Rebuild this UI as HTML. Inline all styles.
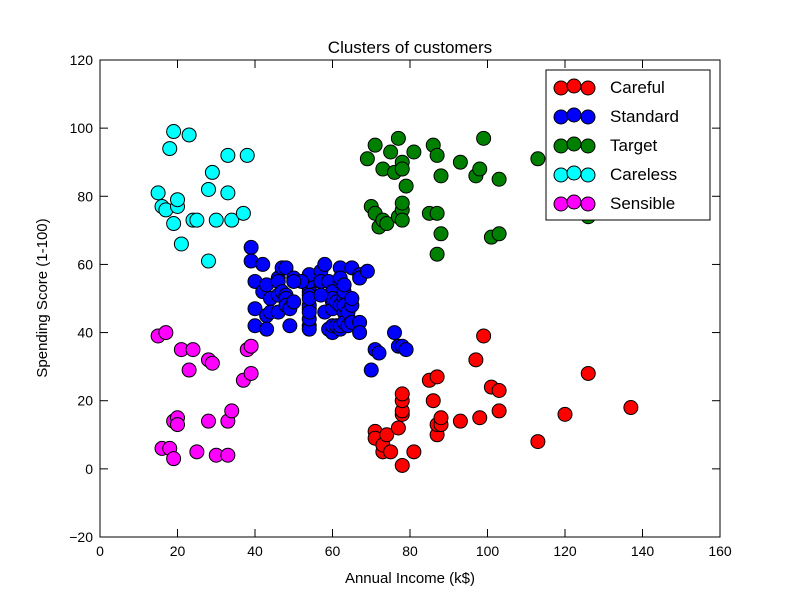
<!DOCTYPE html>
<html><head><meta charset="utf-8"><style>
body{margin:0;background:#fff;}
svg text{font-family:"Liberation Sans",sans-serif;}
</style></head><body>
<svg id="chart" width="800" height="597" xmlns="http://www.w3.org/2000/svg">
<rect width="800" height="597" fill="#fff"/>
<g id="points"></g>
<rect x="100" y="60" width="620" height="477" fill="none" stroke="#000" stroke-width="1"/>
<g id="axes"></g>
<text x="410" y="53" font-size="17" text-anchor="middle">Clusters of customers</text>
<text x="410" y="583" font-size="15" text-anchor="middle">Annual Income (k$)</text>
<text transform="translate(47,298) rotate(-90)" font-size="15" text-anchor="middle">Spending Score (1-100)</text>
<g id="legend"></g>
</svg>
<script>
const xTicks=[0,20,40,60,80,100,120,140,160];
const yTicks=[-20,0,20,40,60,80,100,120];
const clusterNames=["Careful","Standard","Target","Careless","Sensible"];
const clusterColors=["#ff0000","#0000ff","#008000","#00ffff","#ff00ff"];
const carefulX=[71,71,73,73,74,75,77,78,78,78,78,78,81,85,86,87,87,87,88,88,93,97,98,99,101,103,103,113,120,126,137];
const carefulY=[11,9,5,7,10,5,12,1,16,17,20,22,5,26,20,10,13,27,13,15,14,32,15,39,24,23,17,8,16,28,18];
const standardX=[39,39,40,40,40,42,42,43,43,43,44,44,46,46,46,46,47,47,48,48,48,48,49,49,50,50,54,54,54,54,54,54,54,54,54,54,54,54,54,57,57,58,58,59,59,60,60,60,60,60,60,61,61,62,62,62,62,62,62,63,63,63,63,63,63,64,64,65,65,65,65,67,67,67,67,69,70,71,72,76,77,78,79,57,52,50];
const standardY=[65,61,55,47,42,60,52,54,45,41,50,46,51,46,56,55,52,59,51,59,50,48,47,42,49,56,47,54,53,48,52,42,51,55,41,44,57,46,50,58,55,60,46,55,41,49,40,42,52,47,50,42,49,41,48,59,55,56,42,50,46,43,48,52,54,42,46,48,50,43,59,43,57,56,40,58,29,35,34,40,36,36,35,51,55,55];
const targetX=[69,70,71,71,72,73,73,74,75,76,77,77,78,78,78,78,78,79,81,85,86,87,87,87,88,88,93,97,98,99,101,103,103,113,120,126,137];
const targetY=[91,77,95,75,71,88,73,72,93,87,97,74,90,88,76,78,73,83,93,75,95,63,75,92,86,69,90,86,88,97,68,85,69,91,79,74,83];
const carelessX=[15,16,17,18,19,19,20,20,21,23,24,25,28,28,29,30,33,33,34,37,38];
const carelessY=[81,77,76,94,72,99,77,79,66,98,73,73,82,61,87,73,92,81,73,75,92];
const sensibleX=[15,16,17,18,19,19,20,20,21,23,24,25,28,28,29,30,33,33,34,37,38,39,39];
const sensibleY=[39,6,40,6,3,14,15,13,35,29,35,5,14,32,31,4,4,14,17,26,35,36,28];
const seriesX=[carefulX,standardX,targetX,carelessX,sensibleX];
const seriesY=[carefulY,standardY,targetY,carelessY,sensibleY];
const NS="http://www.w3.org/2000/svg";
const xs=v=>100+(v-0)/160*620;
const ys=v=>537-(v+20)/140*477;
const pts=document.getElementById('points');
const axes=document.getElementById('axes');
const leg=document.getElementById('legend');
function mk(tag,attrs,parent){const e=document.createElementNS(NS,tag);for(const k in attrs)e.setAttribute(k,attrs[k]);parent.appendChild(e);return e;}
xTicks.forEach(t=>{
  const x=xs(t);
  const l1=mk('line',{x1:x,x2:x,y1:537,y2:529,stroke:'#000'},axes);
  
  
  mk('line',{x1:x,x2:x,y1:60,y2:68,stroke:'#000'},axes);
  const tx=mk('text',{x:x,y:556,'font-size':14,'text-anchor':'middle'},axes);
  tx.textContent=t;
  
  
});
yTicks.forEach(t=>{
  const y=ys(t);
  const l1=mk('line',{x1:100,x2:108,y1:y,y2:y,stroke:'#000'},axes);
  
  
  mk('line',{x1:712,x2:720,y1:y,y2:y,stroke:'#000'},axes);
  const tx=mk('text',{x:93,y:y+5,'font-size':14,'text-anchor':'end'},axes);
  tx.textContent=t===-20?'\u221220':t;
  
  
});
seriesX.forEach((sx,i)=>{
  sx.forEach((v,j)=>{
    const c=mk('circle',{cx:xs(v),cy:ys(seriesY[i][j]),r:7,fill:clusterColors[i],stroke:'#000','stroke-width':1},pts);
    
    
  });
});
const lb=mk('rect',{x:546,y:70,width:164,height:150,fill:'#fff',stroke:'#000'},leg);


const offs=[[561,1],[574,-1],[588,1]];
clusterNames.forEach((n,i)=>{
  const y=87+i*29;
  offs.forEach(o=>{
    const c=mk('circle',{cx:o[0],cy:y+o[1],r:7,fill:clusterColors[i],stroke:'#000'},leg);
    
    
  });
  const t=mk('text',{x:610,y:y+6,'font-size':17},leg);
  t.textContent=n;
  
  
});
</script>
</body></html>
